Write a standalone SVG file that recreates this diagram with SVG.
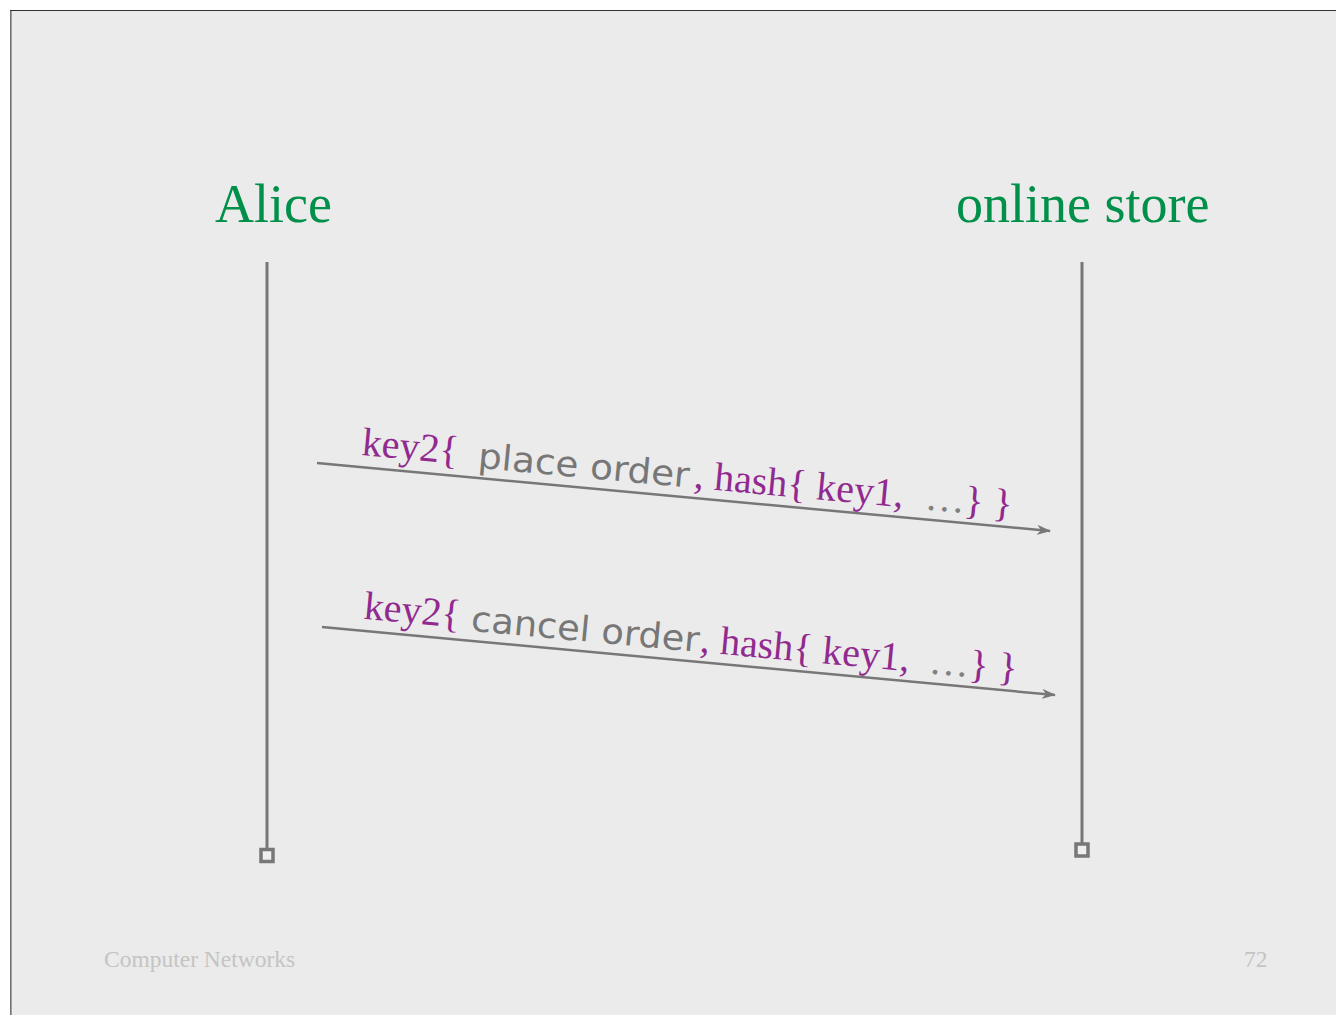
<svg xmlns="http://www.w3.org/2000/svg" width="1336" height="1015" viewBox="0 0 1336 1015">
<defs>
<style>
.title{font-family:"Liberation Serif","Times New Roman",serif;font-size:54px;fill:#00904a}
.p{font-family:"Liberation Serif","Times New Roman",serif;font-size:40px;fill:#912a8f}
.g{font-family:"Comic Sans MS","DejaVu Sans",sans-serif;font-size:35px;fill:#777777}
.gs{font-family:"Liberation Serif","Times New Roman",serif;font-size:40px;fill:#808080}
.life{stroke:#777777;stroke-width:3;fill:none}
.end{stroke:#777777;stroke-width:3.5;fill:#efefef}
.msg{stroke:#777777;stroke-width:2.5;fill:none}
.foot{font-family:"Liberation Serif","Times New Roman",serif;font-size:23.5px;fill:#c4c4c4}
</style>
<marker id="ah" markerWidth="14" markerHeight="10" refX="13" refY="5" orient="auto" markerUnits="userSpaceOnUse">
<path d="M0,0 L14,5 L0,10 L4,5 Z" fill="#777777"/>
</marker>
</defs>
<rect x="0" y="0" width="1336" height="1015" fill="#ffffff"/>
<rect x="10.5" y="10.5" width="1340" height="1020" fill="#ebebeb" stroke="#333333" stroke-width="1"/>
<line x1="11" y1="11" x2="11" y2="1015" stroke="#888888" stroke-width="1.5"/>

<g id="alice">
<text class="title" x="215" y="222">Alice</text>
<line class="life" x1="267" y1="262" x2="267" y2="849"/>
<rect class="end" x="261" y="849.5" width="12" height="12"/>
</g>
<g id="store">
<text class="title" x="956" y="222">online store</text>
<line class="life" x1="1082" y1="262" x2="1082" y2="843"/>
<rect class="end" x="1076" y="844" width="12" height="12"/>
</g>

<g id="connectors">
<line class="msg" x1="317" y1="463" x2="1050" y2="531" marker-end="url(#ah)"/>
<line class="msg" x1="322" y1="627" x2="1055" y2="695" marker-end="url(#ah)"/>
</g>

<g id="label1" transform="translate(317,463) rotate(5.3)">
<text class="p" x="43" y="-12">key2{</text>
<text class="g" x="160" y="-10" textLength="212" lengthAdjust="spacingAndGlyphs">place order</text>
<text class="p" x="377" y="-10">, hash{ key1,</text>
<text class="gs" x="609" y="-10">…</text>
<text class="p" x="648" y="-10">} }</text>
</g>

<g id="label2" transform="translate(322,627) rotate(5.3)">
<text class="p" x="40" y="-12">key2{</text>
<text class="g" x="148" y="-10" textLength="229" lengthAdjust="spacingAndGlyphs">cancel order</text>
<text class="p" x="378" y="-10">, hash{ key1,</text>
<text class="gs" x="608" y="-10">…</text>
<text class="p" x="648" y="-10">} }</text>
</g>

<g id="footer">
<text class="foot" x="104" y="967">Computer Networks</text>
<text class="foot" x="1244" y="967">72</text>
</g>
</svg>
